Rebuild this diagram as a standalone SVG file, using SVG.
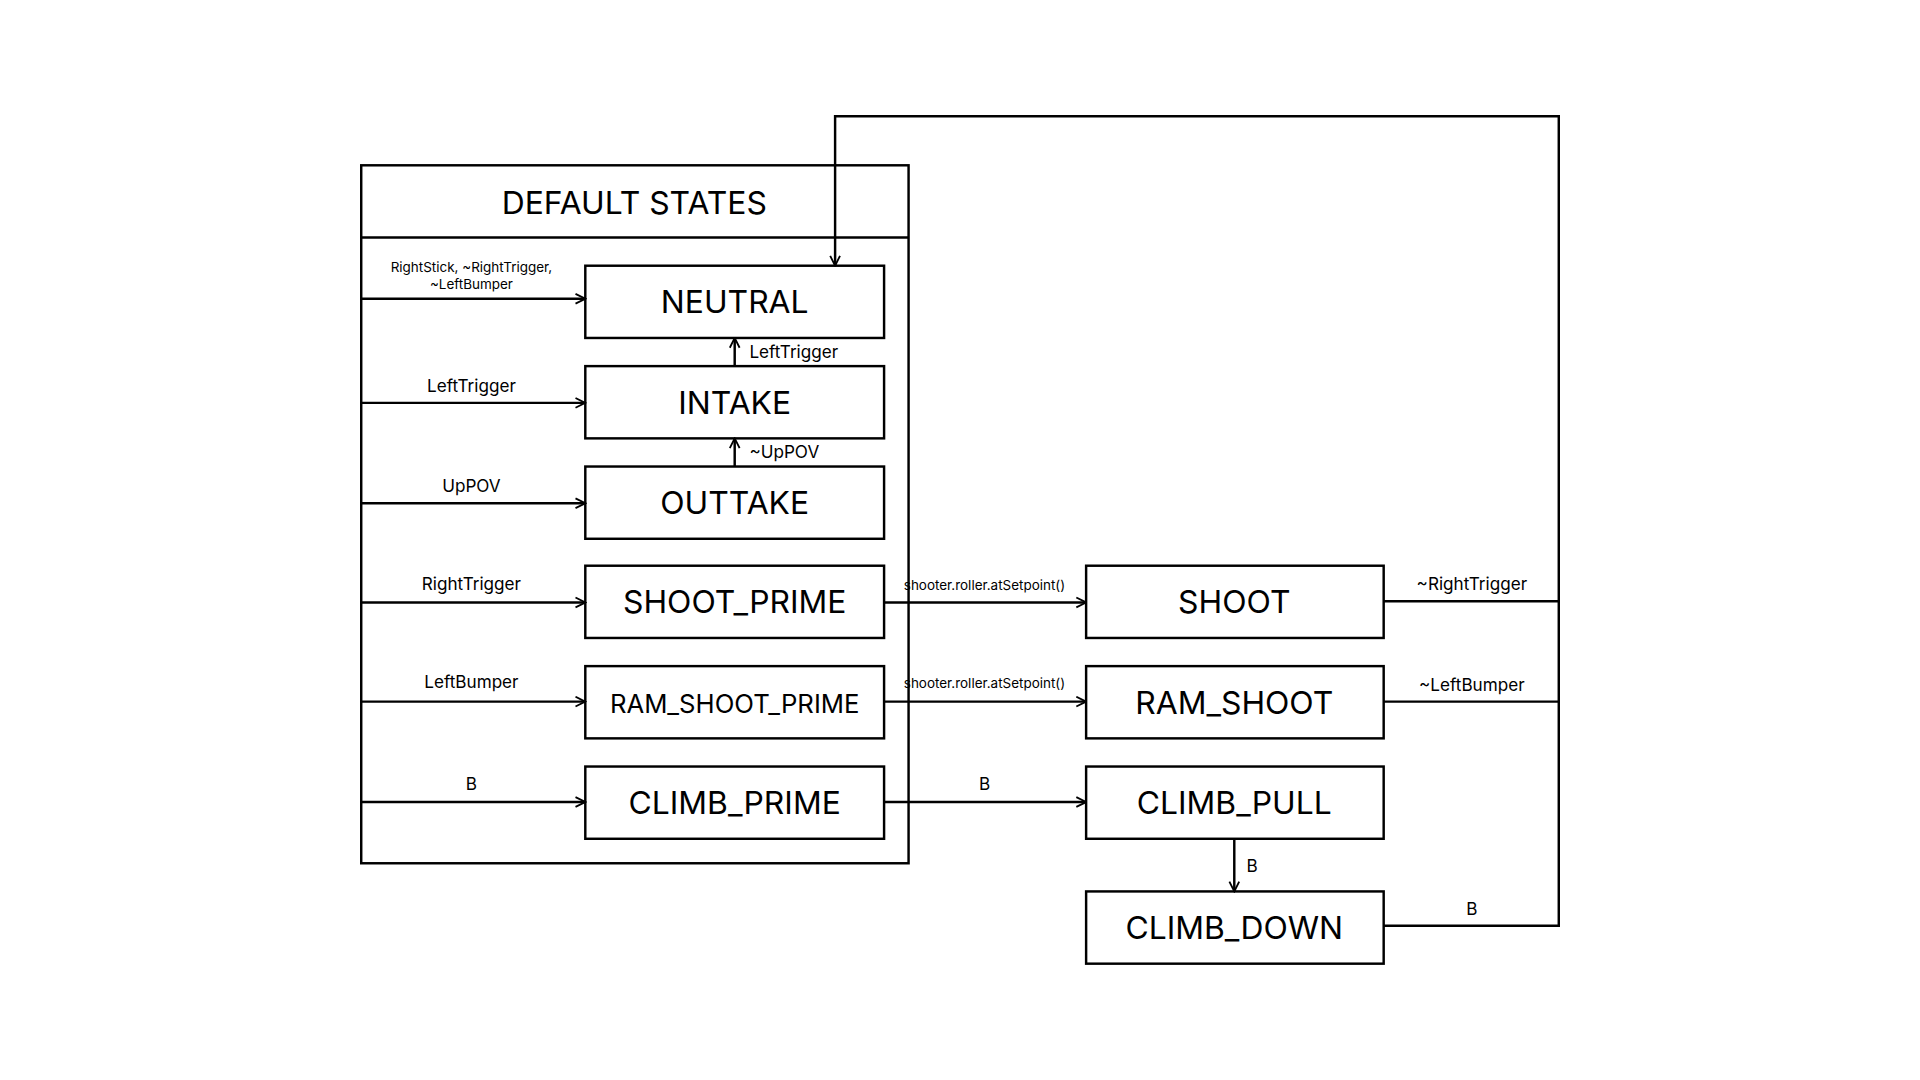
<svg xmlns="http://www.w3.org/2000/svg" width="1920" height="1080" viewBox="0 0 1920 1080">
<defs>
<marker id="ah" viewBox="0 0 10 10" refX="9" refY="5" markerWidth="10" markerHeight="10" markerUnits="userSpaceOnUse" orient="auto">
<path d="M1,1 L9,5 L1,9" fill="none" stroke="#000" stroke-width="1.5"/>
</marker>
<style>
rect{fill:#fff;stroke:#000;stroke-width:2}
.n{font-family:Inter,"Liberation Sans",sans-serif;font-size:26px;text-anchor:middle;fill:#000}
.l{font-family:Inter,"Liberation Sans",sans-serif;font-size:14px;text-anchor:middle;fill:#000}
.s{font-family:Inter,"Liberation Sans",sans-serif;font-size:11px;text-anchor:middle;fill:#000}
.c path{fill:none;stroke:#000;stroke-width:2}
.c .a{marker-end:url(#ah)}
</style>
</defs>
<rect x="0" y="0" width="1920" height="1080" style="fill:#fff;stroke:none"/>
<g transform="scale(1.22449)">
<g id="default_states">
<rect x="295" y="135" width="447" height="570"/>
<line x1="295" y1="194" x2="742" y2="194" stroke="#000" stroke-width="2"/>
<text class="n" x="518" y="175">DEFAULT STATES</text>
</g>
<g id="neutral"><rect x="478" y="217" width="244" height="59"/><text class="n" x="600" y="256">NEUTRAL</text></g>
<g id="intake"><rect x="478" y="299" width="244" height="59"/><text class="n" x="600" y="338">INTAKE</text></g>
<g id="outtake"><rect x="478" y="381" width="244" height="59"/><text class="n" x="600" y="420">OUTTAKE</text></g>
<g id="shoot_prime"><rect x="478" y="462" width="244" height="59"/><text class="n" x="600" y="501">SHOOT_PRIME</text></g>
<g id="ram_shoot_prime"><rect x="478" y="544" width="244" height="59"/><text class="n" x="600" y="582" style="font-size:21px">RAM_SHOOT_PRIME</text></g>
<g id="climb_prime"><rect x="478" y="626" width="244" height="59"/><text class="n" x="600" y="665">CLIMB_PRIME</text></g>
<g id="shoot"><rect x="887" y="462" width="243" height="59"/><text class="n" x="1008" y="501">SHOOT</text></g>
<g id="ram_shoot"><rect x="887" y="544" width="243" height="59"/><text class="n" x="1008" y="583">RAM_SHOOT</text></g>
<g id="climb_pull"><rect x="887" y="626" width="243" height="59"/><text class="n" x="1008" y="665">CLIMB_PULL</text></g>
<g id="climb_down"><rect x="887" y="728" width="243" height="59"/><text class="n" x="1008" y="767">CLIMB_DOWN</text></g>
<g class="c" id="connectors">
<path class="a" d="M295,244 H478"/>
<path class="a" d="M295,329 H478"/>
<path class="a" d="M295,411 H478"/>
<path class="a" d="M295,492 H478"/>
<path class="a" d="M295,573 H478"/>
<path class="a" d="M295,655 H478"/>
<path class="a" d="M600,299 V276"/>
<path class="a" d="M600,381 V358"/>
<path class="a" d="M722,492 H887"/>
<path class="a" d="M722,573 H887"/>
<path class="a" d="M722,655 H887"/>
<path class="a" d="M1008,685 V728"/>
<path d="M1130,491 H1273"/>
<path d="M1130,573 H1273"/>
<path class="a" d="M1130,756 H1273 V95 H682 V217"/>
<text class="s" x="385" y="222">RightStick, ~RightTrigger,</text>
<text class="s" x="385" y="236">~LeftBumper</text>
<text class="l" x="385" y="320">LeftTrigger</text>
<text class="l" x="385" y="402">UpPOV</text>
<text class="l" x="385" y="482">RightTrigger</text>
<text class="l" x="385" y="562">LeftBumper</text>
<text class="l" x="385" y="645">B</text>
<text class="l" x="612" y="292" style="text-anchor:start">LeftTrigger</text>
<text class="l" x="612" y="374" style="text-anchor:start">~UpPOV</text>
<text class="s" x="804" y="482">shooter.roller.atSetpoint()</text>
<text class="s" x="804" y="562">shooter.roller.atSetpoint()</text>
<text class="l" x="804" y="645">B</text>
<text class="l" x="1202" y="482">~RightTrigger</text>
<text class="l" x="1202" y="564">~LeftBumper</text>
<text class="l" x="1202" y="747">B</text>
<text class="l" x="1018" y="712" style="text-anchor:start">B</text>
</g>
</g>
</svg>
